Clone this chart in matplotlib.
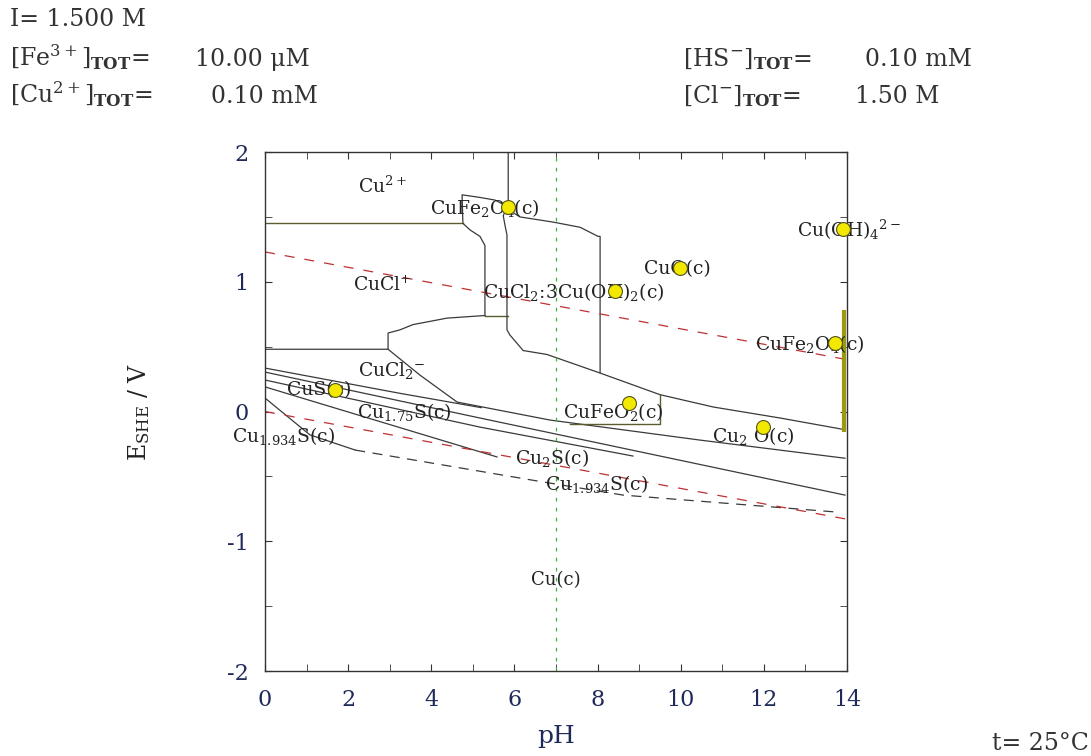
import matplotlib
matplotlib.use('Agg')
import matplotlib.pyplot as plt
from matplotlib.ticker import MultipleLocator

# the reference text is wide, DejaVu Serif is the closest in proportion
plt.rcParams['font.family'] = ['DejaVu Serif']
plt.rcParams['mathtext.fontset'] = 'dejavuserif'
plt.rcParams['axes.unicode_minus'] = False

# predominance boundaries (pH, E in V vs SHE)
cu2_cucl_ph = [0, 4.76]
cu2_cucl_e = [1.45, 1.45]
ferrite_left_ph = [5.77, 5.53, 5.17, 4.74, 4.76, 4.93, 5.17, 5.29, 5.29]
ferrite_left_e = [1.59, 1.63, 1.65, 1.67, 1.45, 1.40, 1.35, 1.28, 0.74]
step_ph = [5.29, 5.85]
step_e = [0.74, 0.74]
mid_ph = [5.85, 5.85, 5.73, 5.77, 5.82, 5.82, 5.89, 6.21, 6.78, 8.03, 9.50, 10.78, 12.39, 13.95]
mid_e = [2.0, 1.59, 1.51, 1.44, 1.36, 0.63, 0.59, 0.47, 0.44, 0.30, 0.13, 0.035, -0.05, -0.14]
ferrite_top_ph = [5.89, 6.13, 6.93, 7.58, 8.01, 8.06, 8.06]
ferrite_top_e = [1.55, 1.50, 1.46, 1.42, 1.35, 1.35, 0.30]
cucl_ph = [0, 2.96, 2.96, 3.25, 3.56, 4.38, 5.29]
cucl_e = [0.48, 0.48, 0.605, 0.63, 0.67, 0.72, 0.74]
cucl2_ph = [2.96, 3.73, 4.62, 6.86, 10.46, 13.95]
cucl2_e = [0.48, 0.28, 0.073, -0.066, -0.22, -0.36]
cufeo2_ph = [7.34, 9.50, 9.50]
cufeo2_e = [-0.095, -0.095, 0.127]

# sulfide lines
s1_ph = [0, 3.25, 5.2]
s1_e = [0.335, 0.14, 0.03]
s2_ph = [0, 5.17, 13.95]
s2_e = [0.304, -0.05, -0.644]
s3_ph = [0, 5.17, 8.85]
s3_e = [0.243, -0.12, -0.343]
s4_ph = [0, 5.58]
s4_e = [0.19, -0.35]
s5_ph = [0, 1.08, 2.17]
s5_e = [0.104, -0.18, -0.297]
s5_dash_ph = [2.17, 6.69, 8.61, 13.76]
s5_dash_e = [-0.297, -0.543, -0.644, -0.775]

# water stability limits
water_ph = [0, 14]
o2_e = [1.23, 0.40]
h2_e = [0.0, -0.83]

# solids marked with a yellow dot
dot_ph = [5.85, 8.42, 9.98, 13.90, 13.71, 1.68, 8.76, 11.98]
dot_e = [1.576, 0.929, 1.106, 1.41, 0.528, 0.166, 0.066, -0.12]

fig = plt.figure(figsize=(10.91, 7.56), dpi=100)
ax = fig.add_axes([0.2429, 0.1124, 0.5335, 0.6865])

line = dict(color='#3a3a3a', lw=0.9)
olive = dict(color='#5c5c30', lw=1.0)
ax.plot(cu2_cucl_ph, cu2_cucl_e, **olive)
ax.plot(ferrite_left_ph, ferrite_left_e, **line)
ax.plot(step_ph, step_e, **olive)
ax.plot(mid_ph, mid_e, **line)
ax.plot(ferrite_top_ph, ferrite_top_e, **line)
ax.plot(cucl_ph, cucl_e, **line)
ax.plot(cucl2_ph, cucl2_e, **line)
ax.plot(cufeo2_ph, cufeo2_e, **olive)
for px, pe in [(s1_ph, s1_e), (s2_ph, s2_e), (s3_ph, s3_e), (s4_ph, s4_e), (s5_ph, s5_e)]:
    ax.plot(px, pe, **line)
ax.plot(s5_dash_ph, s5_dash_e, color='#3a3a3a', lw=0.9, dashes=(8, 6))

ax.plot(water_ph, o2_e, color='#c03030', lw=0.9, dashes=(8, 8))
ax.plot(water_ph, h2_e, color='#c03030', lw=0.9, dashes=(8, 8))
ax.axvline(7, color='#40b040', lw=0.9, dashes=(3, 5))
ax.plot([13.93, 13.93], [0.78, -0.16], color='#9a9a10', lw=3, solid_capstyle='butt')

ax.plot(dot_ph, dot_e, 'o', ms=10, mfc='#f2e800', mec='#555520', mew=0.8,
        clip_on=False, zorder=5)

lab = dict(fontsize=13.5, color='#222222', va='center', ha='left', clip_on=False)
ax.text(2.24, 1.74, r'Cu$^{2+}$', **lab)
ax.text(3.97, 1.57, r'CuFe$_2$O$_4$(c)', **lab)
ax.text(2.12, 0.97, r'CuCl$^{+}$', **lab)
ax.text(5.25, 0.92, r'CuCl$_2$:3Cu(OH)$_2$(c)', **lab)
ax.text(9.12, 1.10, r'CuO(c)', **lab)
ax.text(12.80, 1.40, r'Cu(OH)$_4$$^{2-}$', **lab)
ax.text(11.79, 0.52, r'CuFe$_2$O$_4$(c)', **lab)
ax.text(2.24, 0.32, r'CuCl$_2$$^{-}$', **lab)
ax.text(0.53, 0.165, r'CuS(c)', **lab)
ax.text(2.21, 0.0, r'Cu$_{1.75}$S(c)', **lab)
ax.text(-0.79, -0.19, r'Cu$_{1.934}$S(c)', **lab)
ax.text(7.17, 0.0, r'CuFeO$_2$(c)', **lab)
ax.text(10.75, -0.19, r'Cu$_2$ O(c)', **lab)
ax.text(6.01, -0.36, r'Cu$_2$S(c)', **lab)
ax.text(6.74, -0.56, r'Cu$_{1.934}$S(c)', **lab)
ax.text(7.0, -1.30, r'Cu(c)', fontsize=13, color='#222222', ha='center', va='center')

ax.set_xlim(0, 14)
ax.set_ylim(-2, 2)
ax.xaxis.set_major_locator(MultipleLocator(2))
ax.xaxis.set_minor_locator(MultipleLocator(1))
ax.yaxis.set_major_locator(MultipleLocator(1))
ax.yaxis.set_minor_locator(MultipleLocator(0.5))
ax.tick_params(which='both', direction='in', top=True, right=True, length=5,
               color='#333333', labelsize=16, labelcolor='#1f2a5a')
ax.tick_params(axis='x', pad=13)
ax.tick_params(axis='y', pad=12)
for s in ax.spines.values():
    s.set_color('#333333')
    s.set_linewidth(1.0)

ax.set_xlabel('pH', fontsize=18, color='#1f2a5a', labelpad=10)
ax.set_ylabel(r'E$_{\rm SHE}$ / V', fontsize=17, color='#222222', labelpad=54)

hdr = dict(fontsize=17, color='#333333', va='baseline')
fig.text(0.009, 0.965, 'I= 1.500 M', **hdr)
fig.text(0.009, 0.913, r'[Fe$^{3+}$]$_{\mathbf{TOT}}$=', **hdr)
fig.text(0.179, 0.913, '10.00 \u03bcM', **hdr)
fig.text(0.009, 0.864, r'[Cu$^{2+}$]$_{\mathbf{TOT}}$=', **hdr)
fig.text(0.193, 0.864, '0.10 mM', **hdr)
fig.text(0.626, 0.913, r'[HS$^{-}$]$_{\mathbf{TOT}}$=', **hdr)
fig.text(0.793, 0.913, '0.10 mM', **hdr)
fig.text(0.626, 0.864, r'[Cl$^{-}$]$_{\mathbf{TOT}}$=', **hdr)
fig.text(0.784, 0.864, '1.50 M', **hdr)
fig.text(0.998, 0.008, 't= 25\u00b0C', ha='right', **hdr)

fig.savefig('out.png', dpi=100)
